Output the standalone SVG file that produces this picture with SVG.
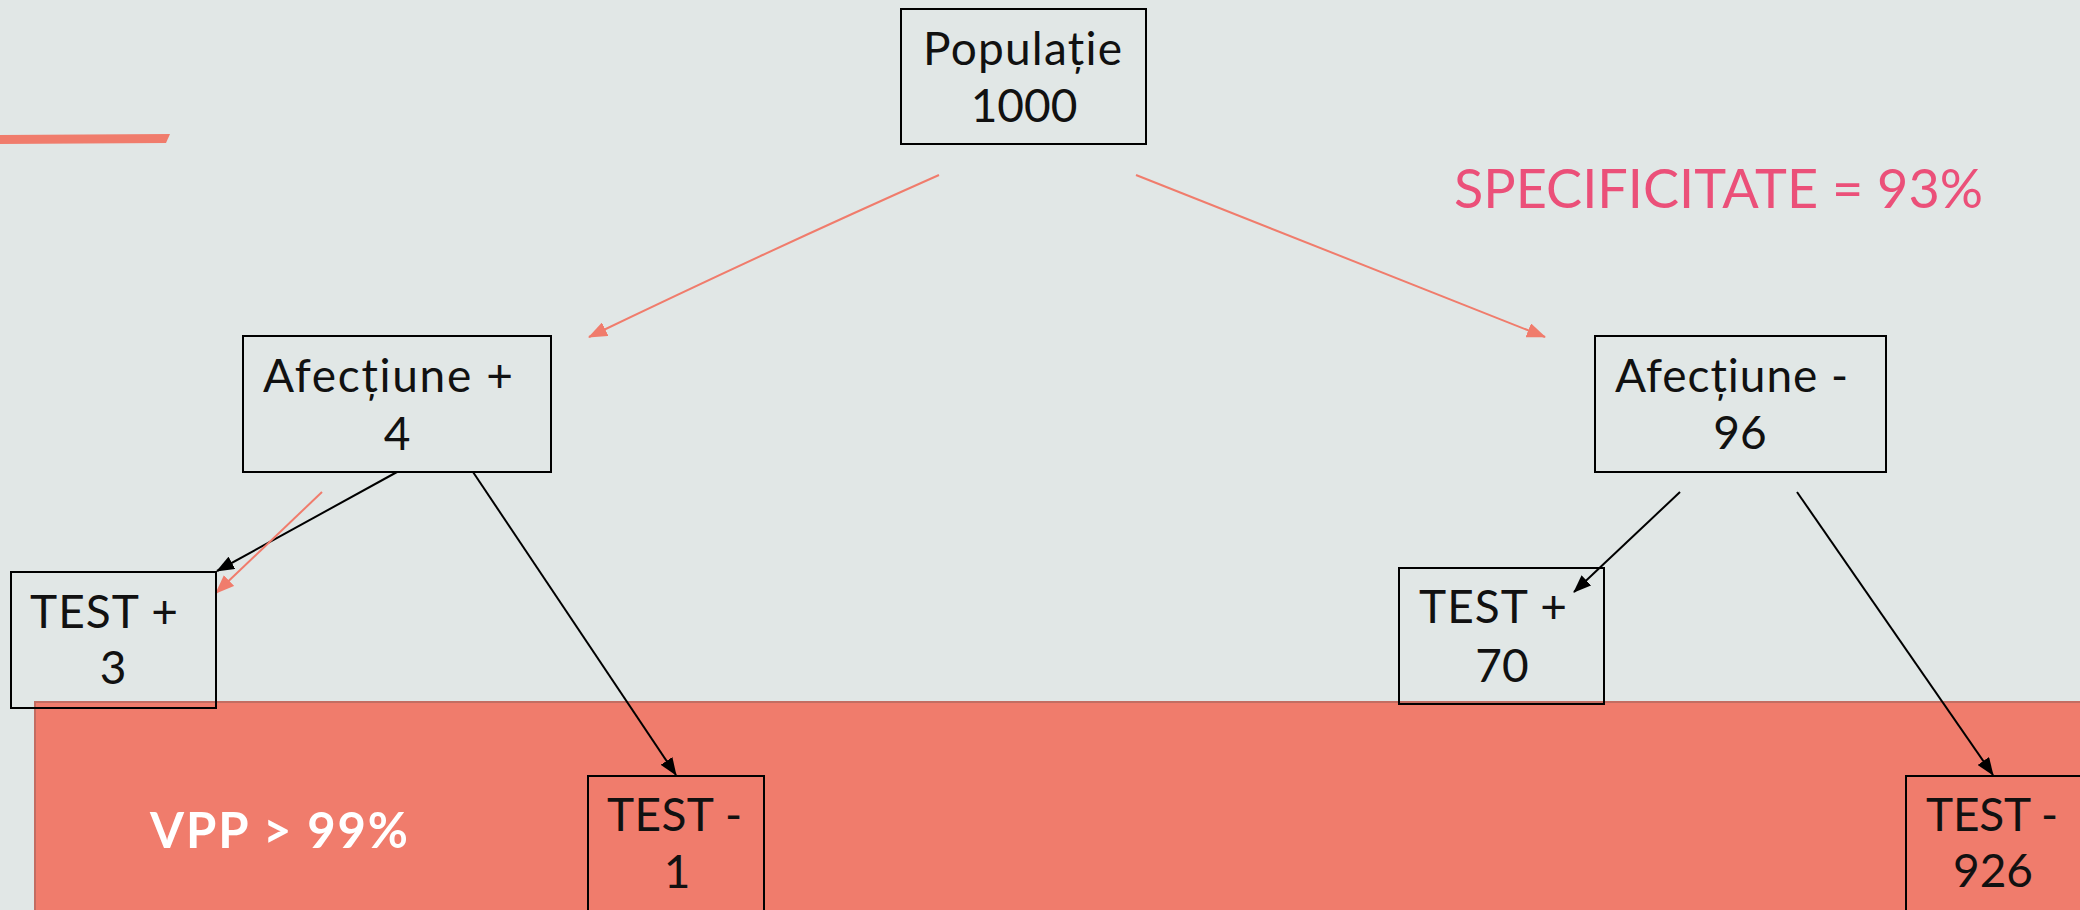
<svg xmlns="http://www.w3.org/2000/svg" width="2080" height="910" viewBox="0 0 2080 910">
  <defs>
    <style>
      .box { fill: none; stroke: #000; stroke-width: 2; }
      .lbl { font-family: Lato, "Noto Sans", "Liberation Sans", sans-serif; font-size: 46px; font-weight: 400; fill: #111; text-anchor: middle; }
      .wire-k { fill: none; stroke: #000; stroke-width: 2; }
      .wire-o { fill: none; stroke: #F07C6C; stroke-width: 2; }
    </style>
    <marker id="head-k" markerUnits="userSpaceOnUse" markerWidth="18" markerHeight="14" refX="17" refY="7" orient="auto">
      <path d="M0,0 L18,7 L0,14 z" fill="#000"/>
    </marker>
    <marker id="head-o" markerUnits="userSpaceOnUse" markerWidth="19" markerHeight="15" refX="18" refY="7.5" orient="auto">
      <path d="M0,0 L19,7.5 L0,15 z" fill="#F07C6C"/>
    </marker>
  </defs>

  <!-- background -->
  <rect x="0" y="0" width="2080" height="910" fill="#E1E7E6"/>

  <!-- accent stroke, top left -->
  <path d="M0,135 L170,134 L166,143 L0,144 z" fill="#F07C6C"/>

  <!-- highlighted lower band -->
  <rect id="band" x="35" y="702" width="2060" height="220" fill="#F07C6C" stroke="#C36D62" stroke-width="2"/>

  <text id="vpp" x="150" y="848" textLength="258" font-family="Lato, 'Noto Sans', 'Liberation Sans', sans-serif" font-size="49" font-weight="bold" fill="#FFFFFF">VPP &gt; 99%</text>

  <text id="spec" x="1454" y="208" textLength="529" font-family="Lato, 'Noto Sans', 'Liberation Sans', sans-serif" font-size="54" font-weight="400" fill="#EB5079">SPECIFICITATE = 93%</text>

  <!-- connectors -->
  <g id="connectors">
    <path class="wire-o" d="M939,175 Q770,250 589,337" marker-end="url(#head-o)"/>
    <line class="wire-o" x1="1136" y1="175" x2="1545" y2="337" marker-end="url(#head-o)"/>
    <line class="wire-k" x1="397" y1="472" x2="217" y2="571" marker-end="url(#head-k)"/>
    <line class="wire-o" x1="322" y1="492" x2="216" y2="593" marker-end="url(#head-o)"/>
    <line class="wire-k" x1="473" y1="472" x2="676" y2="775" marker-end="url(#head-k)"/>
    <line class="wire-k" x1="1680" y1="492" x2="1574" y2="592" marker-end="url(#head-k)"/>
    <line class="wire-k" x1="1797" y1="492" x2="1993" y2="775" marker-end="url(#head-k)"/>
  </g>

  <g id="populatie">
    <rect class="box" x="901" y="9" width="245" height="135"/>
    <text class="lbl" x="1022.5" y="65" textLength="199">Populație</text>
    <text class="lbl" x="1024" y="122">1000</text>
  </g>

  <g id="afectiune-pos">
    <rect class="box" x="243" y="336" width="308" height="136"/>
    <text class="lbl" x="388" y="392" textLength="250">Afecțiune +</text>
    <text class="lbl" x="397" y="450">4</text>
  </g>

  <g id="afectiune-neg">
    <rect class="box" x="1595" y="336" width="291" height="136"/>
    <text class="lbl" x="1731.5" y="392" textLength="233">Afecțiune -</text>
    <text class="lbl" x="1740" y="449">96</text>
  </g>

  <g id="test-pos-3">
    <rect class="box" x="11" y="572" width="205" height="136"/>
    <text class="lbl" x="104" y="628" textLength="148">TEST +</text>
    <text class="lbl" x="113" y="684">3</text>
  </g>

  <g id="test-neg-1">
    <rect class="box" x="588" y="776" width="176" height="160"/>
    <text class="lbl" x="674.5" y="831" textLength="135">TEST -</text>
    <text class="lbl" x="677" y="888">1</text>
  </g>

  <g id="test-pos-70">
    <rect class="box" x="1399" y="568" width="205" height="136"/>
    <text class="lbl" x="1493" y="623" textLength="148">TEST +</text>
    <text class="lbl" x="1502" y="682">70</text>
  </g>

  <g id="test-neg-926">
    <rect class="box" x="1906" y="776" width="176" height="160"/>
    <text class="lbl" x="1992" y="831" textLength="132">TEST -</text>
    <text class="lbl" x="1993" y="887">926</text>
  </g>
</svg>
